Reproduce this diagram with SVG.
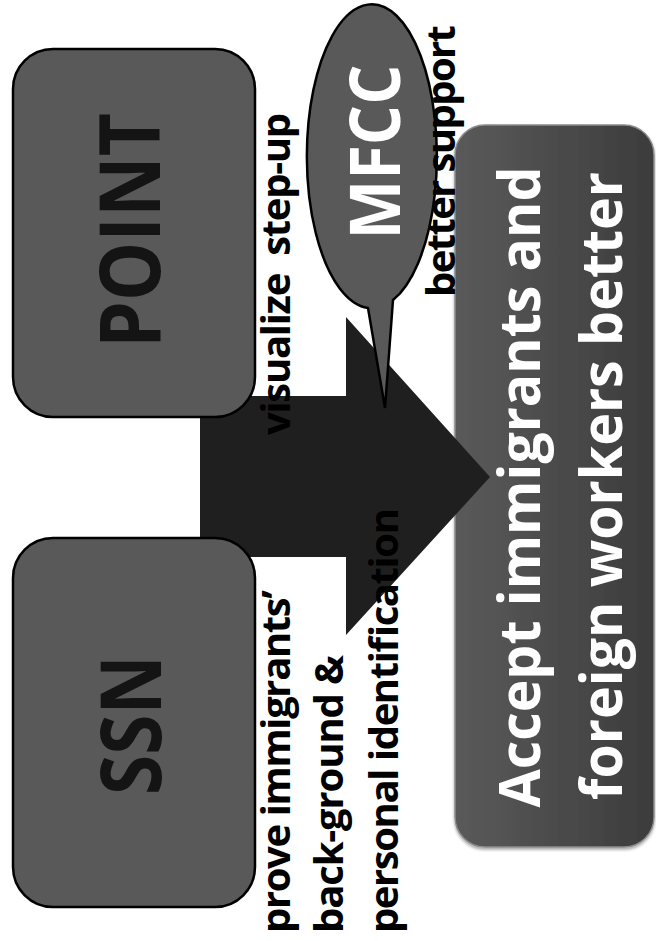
<svg xmlns="http://www.w3.org/2000/svg" width="656" height="941" viewBox="0 0 656 941">
  <defs>
    <linearGradient id="tgtGrad" x1="0" y1="0" x2="1" y2="0">
      <stop offset="0" stop-color="#5a5a5a"/>
      <stop offset="1" stop-color="#3c3c3c"/>
    </linearGradient>
    <filter id="shadow" x="-10%" y="-10%" width="120%" height="120%">
      <feDropShadow dx="0" dy="2" stdDeviation="1.5" flood-color="#000" flood-opacity="0.35"/>
    </filter>
  </defs>
  <style>
    .box { fill: #595959; stroke: #000; stroke-width: 2.5; }
    .big { font-family: "Open Sans", "Liberation Sans", sans-serif; font-weight: bold; }
    .dark { fill: #141414; }
    .white { fill: #ffffff; }
    .lbl { font-family: "Open Sans", "Liberation Sans", sans-serif; font-weight: bold; font-size: 40px; fill: #000; }
    .arrow { fill: #1f1f1f; }
  </style>

  <g id="node-target">
    <rect x="455" y="125" width="199" height="722" rx="30" ry="30" fill="url(#tgtGrad)" stroke="#8c8c8c" stroke-width="1.5" filter="url(#shadow)"/>
    <text class="big white" font-size="58" text-anchor="middle" textLength="641" lengthAdjust="spacingAndGlyphs" transform="translate(540,487) rotate(-90)">Accept immigrants and</text>
    <text class="big white" font-size="58" text-anchor="middle" textLength="628" lengthAdjust="spacingAndGlyphs" transform="translate(622,486) rotate(-90)">foreign workers better</text>
  </g>

  <g id="connectors">
    <polygon class="arrow" points="200,396 346,396 346,317 490,477 346,635 346,557 200,557"/>
  </g>

  <g id="node-point">
    <rect class="box" x="13" y="49" width="242" height="368" rx="40" ry="40"/>
    <text class="big dark" font-size="84" text-anchor="middle" textLength="235" lengthAdjust="spacingAndGlyphs" transform="translate(160,230.5) rotate(-90)">POINT</text>
  </g>

  <g id="node-ssn">
    <rect class="box" x="13" y="538" width="242" height="369" rx="40" ry="40"/>
    <text class="big dark" font-size="84" text-anchor="middle" textLength="140" lengthAdjust="spacingAndGlyphs" transform="translate(161,725) rotate(-90)">SSN</text>
  </g>

  <g id="node-mfcc">
    <path class="box" d="M393,300 L385,408 L368,308 A65,152 0 1,1 393,300 Z"/>
    <text class="big white" font-size="70" text-anchor="middle" textLength="175" lengthAdjust="spacingAndGlyphs" transform="translate(400,152) rotate(-90)">MFCC</text>
  </g>

  <g id="edge-labels">
    <text class="lbl" xml:space="preserve" textLength="322" transform="translate(290,435) rotate(-90)">visualize  step-up</text>
    <text class="lbl" textLength="343" transform="translate(290,933) rotate(-90)">prove immigrants’</text>
    <text class="lbl" textLength="278" transform="translate(343,933) rotate(-90)">back-ground &amp;</text>
    <text class="lbl" textLength="425" transform="translate(398,933) rotate(-90)">personal identification</text>
    <text class="lbl" textLength="272" transform="translate(455,297) rotate(-90)">better support</text>
  </g>
</svg>
